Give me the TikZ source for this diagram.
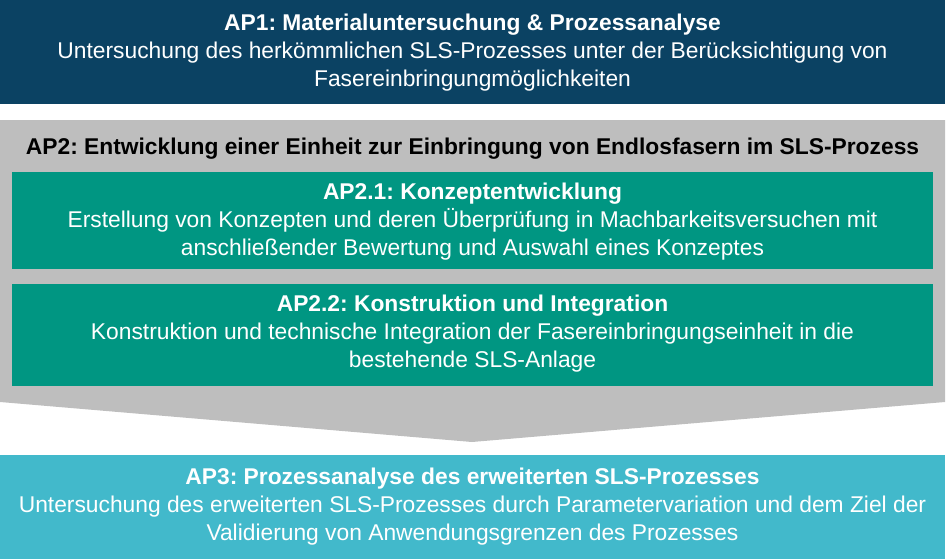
\documentclass[tikz,border=0pt]{standalone}
\usepackage{fontspec}
\setmainfont{Liberation Sans}
\frenchspacing
\definecolor{apblue}{RGB}{11,66,99}
\definecolor{apgrey}{RGB}{190,190,190}
\definecolor{apgreen}{RGB}{0,150,130}
\definecolor{apteal}{RGB}{66,185,203}
\begin{document}
\begin{tikzpicture}[x=1pt,y=-1pt,
  boxtext/.style={text=white,align=center,font=\fontsize{22.8}{28}\selectfont,inner sep=0pt},
  headtext/.style={text=black,align=center,font=\fontsize{22.8}{28}\selectfont\bfseries,inner sep=0pt}]
\useasboundingbox (0,0) rectangle (949,559);
% boxes
\fill[apblue] (0,0) rectangle (945,104);
\fill[apgrey] (0,120) -- (945,120) -- (945,402) -- (472,442) -- (0,402) -- cycle;
\fill[apgreen] (12,172) rectangle (933,269);
\fill[apgreen] (12,284) rectangle (933,386);
\fill[apteal] (0,455) rectangle (945,559);
% texts
\node[boxtext] (ap1) at (472.5,53) {\textbf{AP1: Materialuntersuchung \& Prozessanalyse}\\Untersuchung des herkömmlichen SLS-Prozesses unter der Berücksichtigung von\\Fasereinbringungmöglichkeiten};
\node[headtext] (ap2) at (472.5,149) {AP2: Entwicklung einer Einheit zur Einbringung von Endlosfasern im SLS-Prozess};
\node[boxtext] (ap21) at (472.5,222) {\textbf{AP2.1: Konzeptentwicklung}\\Erstellung von Konzepten und deren Überprüfung in Machbarkeitsversuchen mit\\anschließender Bewertung und Auswahl eines Konzeptes};
\node[boxtext] (ap22) at (472.5,334) {\textbf{AP2.2: Konstruktion und Integration}\\Konstruktion und technische Integration der Fasereinbringungseinheit in die\\bestehende SLS-Anlage};
\node[boxtext] (ap3) at (472.5,507) {\textbf{AP3: Prozessanalyse des erweiterten SLS-Prozesses}\\Untersuchung des erweiterten SLS-Prozesses durch Parametervariation und dem Ziel der\\Validierung von Anwendungsgrenzen des Prozesses};
\end{tikzpicture}
\end{document}
